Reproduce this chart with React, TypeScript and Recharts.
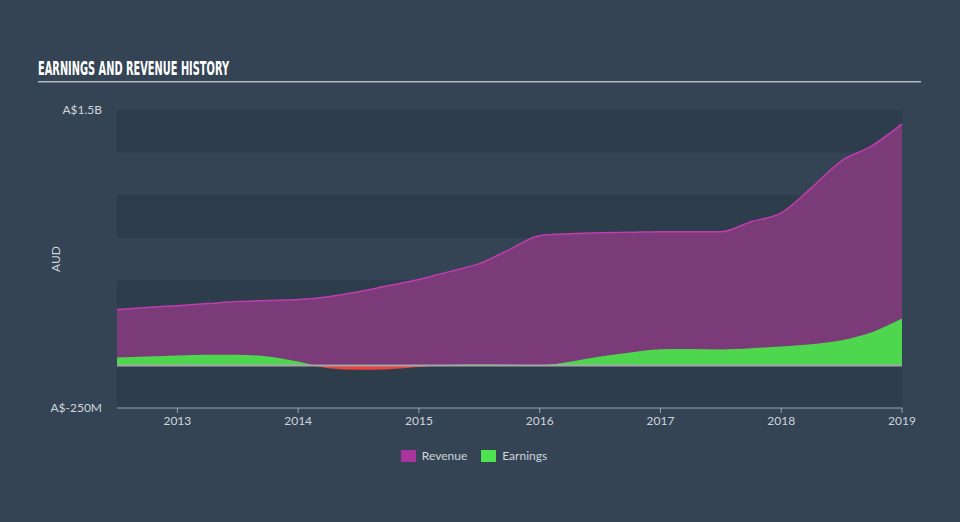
import {
  Area,
  AreaChart,
  ReferenceArea,
  ReferenceLine,
  XAxis,
  YAxis,
} from "recharts"

// quarter positions (decimal year)
const periods = [
  2012.5, 2012.75, 2013, 2013.25, 2013.5, 2013.75, 2014, 2014.25, 2014.5,
  2014.75, 2015, 2015.25, 2015.5, 2015.75, 2016, 2016.25, 2016.5, 2016.75,
  2017, 2017.25, 2017.5, 2017.75, 2018, 2018.25, 2018.5, 2018.75, 2019,
]

// values in A$ millions
const revenue = [
  328, 340, 351, 363, 375, 381, 387, 404, 433, 469, 504, 551, 598, 680, 762,
  773, 779, 782, 785, 785, 785, 844, 896, 1043, 1201, 1289, 1418,
]
const earnings = [
  47, 53, 59, 62, 62, 53, 23, -16, -25, -22, -9, 3, 5, 4, 2, 22, 52, 76, 95,
  96, 94, 101, 111, 125, 148, 195, 275,
]

const yearTicks = [2013, 2014, 2015, 2016, 2017, 2018, 2019]
const valueTicks = [-250, 1500]
// darker grid bands (A$ millions)
const darkBands: [number, number][] = [
  [-250, 0],
  [250, 500],
  [750, 1000],
  [1250, 1500],
]

const seriesNames = { revenue: "Revenue", earnings: "Earnings" }

const BG = "#344455"
const BAND = "#2e3d4c"
const REV_FILL = "#7b3a78"
const REV_STROKE = "#be3eae"
const REV_SWATCH = "#a8349e"
const EARN_GREEN = "#4fd64f"
const EARN_SWATCH = "#4ee24e"
const EARN_RED = "#e8443c"
const TEXT = "#d0d5db"
const FONT = "Lato, 'Open Sans', sans-serif"

const data = periods.map((p, i) => ({
  period: p,
  revenue: revenue[i],
  earnings: earnings[i],
}))

const fmtValue = (v: number) =>
  Math.abs(v) >= 1000 ? `A$${v / 1000}B` : `A$${v}M`

export default function App() {
  const eMax = Math.max(...earnings)
  const eMin = Math.min(...earnings)
  const zeroOffset = eMax / (eMax - eMin)

  return (
    <div
      style={{
        position: "absolute",
        left: 0,
        top: 0,
        width: 960,
        height: 522,
        background: BG,
        fontFamily: FONT,
        overflow: "hidden",
      }}
    >
      <AreaChart
        width={960}
        height={522}
        data={data}
        margin={{ top: 110, right: 58, left: 37, bottom: 84 }}
      >
        <defs>
          <linearGradient id="earnFill" x1="0" y1="0" x2="0" y2="1">
            <stop offset={zeroOffset} stopColor={EARN_GREEN} />
            <stop offset={zeroOffset} stopColor={EARN_RED} />
          </linearGradient>
        </defs>
        {darkBands.map(([a, b]) => (
          <ReferenceArea
            key={a}
            y1={a}
            y2={b}
            fill={BAND}
            fillOpacity={1}
            stroke="none"
            ifOverflow="visible"
          />
        ))}
        <XAxis
          dataKey="period"
          type="number"
          domain={[2012.5, 2019]}
          ticks={yearTicks}
          allowDataOverflow
          height={30}
          stroke="#9aa5b1"
          tickSize={5}
          tickMargin={3}
          tick={{ fill: TEXT, fontSize: 12, fontFamily: FONT }}
        />
        <YAxis
          type="number"
          domain={[-250, 1500]}
          ticks={valueTicks}
          width={80}
          axisLine={false}
          tickLine={false}
          tickSize={0}
          tickMargin={15}
          tickFormatter={fmtValue}
          tick={{ fill: TEXT, fontSize: 12, fontFamily: FONT }}
        />
        <Area
          type="monotone"
          dataKey="revenue"
          name={seriesNames.revenue}
          baseValue={0}
          stroke={REV_STROKE}
          strokeWidth={1.5}
          fill={REV_FILL}
          fillOpacity={1}
          isAnimationActive={false}
        />
        <ReferenceLine y={0} stroke="#a3a6aa" strokeWidth={2} />
        <Area
          type="monotone"
          dataKey="earnings"
          name={seriesNames.earnings}
          baseValue={0}
          stroke="none"
          fill="url(#earnFill)"
          fillOpacity={1}
          isAnimationActive={false}
        />
      </AreaChart>

      <svg
        width={960}
        height={522}
        style={{ position: "absolute", left: 0, top: 0, pointerEvents: "none" }}
      >
        <text
          x={38}
          y={75}
          fill="#ffffff"
          fontFamily="'DejaVu Sans Condensed', 'Liberation Sans Narrow', sans-serif"
          fontWeight="bold"
          fontSize={19}
          textLength={191}
          lengthAdjust="spacingAndGlyphs"
        >
          EARNINGS AND REVENUE HISTORY
        </text>
        <rect x={38} y={81} width={883} height={1.5} fill="#b3bac2" />
        <text
          x={55}
          y={259}
          transform="rotate(-90 55 259)"
          textAnchor="middle"
          dominantBaseline="central"
          fill={TEXT}
          fontFamily={FONT}
          fontSize={12}
        >
          AUD
        </text>
      </svg>

      {/* legend */}
      <div
        style={{
          position: "absolute",
          top: 448,
          left: -6,
          width: 960,
          display: "flex",
          justifyContent: "center",
          gap: 14,
          fontSize: 12,
          color: TEXT,
        }}
      >
        {[
          { name: seriesNames.revenue, color: REV_SWATCH },
          { name: seriesNames.earnings, color: EARN_SWATCH },
        ].map((s) => (
          <span
            key={s.name}
            style={{ display: "flex", alignItems: "center", gap: 6, lineHeight: "16px" }}
          >
            <span
              style={{ width: 15, height: 12, background: s.color, display: "inline-block" }}
            />
            {s.name}
          </span>
        ))}
      </div>
    </div>
  )
}
